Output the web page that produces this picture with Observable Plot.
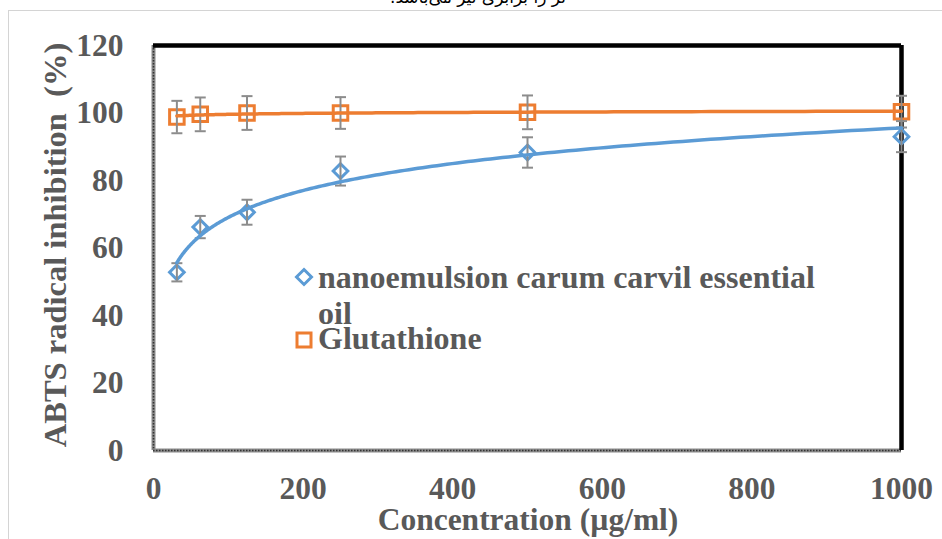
<!DOCTYPE html>
<html>
<head>
<meta charset="utf-8">
<script src="https://cdn.jsdelivr.net/npm/d3@7"></script>
<script src="https://cdn.jsdelivr.net/npm/@observablehq/plot@0.6"></script>
<style>
  body { margin: 0; background: #fff; }
  #wrap { position: relative; width: 942px; height: 539px; overflow: hidden; background: #fff;
          font-family: "Liberation Serif", "Times New Roman", serif; font-weight: bold; color: #595959; }
  #page { position: absolute; left: 8px; top: 10px; width: 1000px; height: 1000px;
          border-left: 1.5px solid #d4d4d4; border-top: 1.5px solid #d4d4d4; }
  #chart { position: absolute; left: 0; top: 0; }
  .lbl { position: absolute; white-space: pre; line-height: 36px; font-size: 31.5px; }
  #fa { position: absolute; left: 478px; top: -13px; transform: translateX(-50%); direction: rtl;
        font-family: "DejaVu Sans", sans-serif; font-weight: normal; font-size: 17px; color: #000; white-space: nowrap; }
  .sym { position: absolute; }
</style>
</head>
<body>
<div id="wrap">
  <div id="page"></div>
  <div id="fa">تر را برابری نیز می‌باشد.</div>
  <div id="chart"></div>
</div>
<script>
// ---- data ----
const concentrations = [31.25, 62.5, 125, 250, 500, 1000];
const nanoValues = [52.8, 66.2, 70.6, 82.8, 88.3, 93.0];
const nanoErrors = [2.7, 3.3, 3.7, 4.3, 4.5, 4.6];
const glutValues = [98.8, 99.6, 100.0, 100.0, 100.2, 100.4];
const glutErrors = [4.8, 5.0, 5.0, 4.7, 5.0, 4.7];
const xTicks = [0, 200, 400, 600, 800, 1000];
const yTicks = [0, 20, 40, 60, 80, 100, 120];
const seriesNames = ["nanoemulsion carum carvil essential", "oil", "Glutathione"];
const xTitle = "Concentration (µg/ml)";
const yTitle = "ABTS radical inhibition  (%)";

const blue = "#5B9BD5", orange = "#ED7D31", barGray = "#8c8c8c", textGray = "#595959";

// logarithmic least-squares trendline (as Excel's log trendline)
function logFit(xs, ys) {
  const lx = xs.map(Math.log);
  const mx = d3.mean(lx), my = d3.mean(ys);
  const a = d3.sum(lx, (v, i) => (v - mx) * (ys[i] - my)) / d3.sum(lx, v => (v - mx) ** 2);
  const b = my - a * mx;
  return x => a * Math.log(x) + b;
}
const x0 = d3.min(concentrations), x1 = d3.max(concentrations);
const fitXs = d3.range(0, 201).map(i => x0 * Math.pow(x1 / x0, i / 200));
const nanoFit = logFit(concentrations, nanoValues);
const glutFit = logFit(concentrations, glutValues);

const nano = concentrations.map((c, i) => ({x: c, y: nanoValues[i], lo: nanoValues[i] - nanoErrors[i], hi: nanoValues[i] + nanoErrors[i]}));
const glut = concentrations.map((c, i) => ({x: c, y: glutValues[i], lo: glutValues[i] - glutErrors[i], hi: glutValues[i] + glutErrors[i]}));
const nanoLine = fitXs.map(x => ({x, y: nanoFit(x)}));
const glutLine = fitXs.map(x => ({x, y: glutFit(x)}));

const capSymbol = {draw(ctx, size) { const r = Math.sqrt(size / Math.PI); ctx.moveTo(-r, 0); ctx.lineTo(r, 0); }};

function errorMarks(data) {
  return [
    Plot.ruleX(data, {x: "x", y1: "lo", y2: "hi", stroke: barGray, strokeWidth: 2}),
    Plot.dot(data, {x: "x", y: "lo", symbol: capSymbol, r: 5.5, stroke: barGray, strokeWidth: 2, fill: "none"}),
    Plot.dot(data, {x: "x", y: "hi", symbol: capSymbol, r: 5.5, stroke: barGray, strokeWidth: 2, fill: "none"})
  ];
}

const chart = Plot.plot({
  width: 942, height: 539,
  marginLeft: 153, marginRight: 41, marginTop: 45, marginBottom: 89,
  style: {fontFamily: '"Liberation Serif", "Times New Roman", serif', fontSize: "31.5px", fontWeight: "bold", color: textGray, background: "transparent", overflow: "visible"},
  x: {domain: [0, 1000], label: null},
  y: {domain: [0, 120], label: null},
  marks: [
    Plot.axisX(xTicks, {tickSize: 0, tickPadding: 26, label: null, tickFormat: d => String(d), fontSize: 31.5, fontWeight: "bold", fill: textGray}),
    Plot.axisY(yTicks, {tickSize: 0, tickPadding: 30, label: null, tickFormat: d => String(d), fontSize: 31.5, fontWeight: "bold", fill: textGray}),
    // plot-area border
    Plot.ruleX([0], {stroke: "#8a8a8a", strokeWidth: 4}),
    Plot.ruleX([0], {stroke: "#333", strokeWidth: 1.5, strokeDasharray: "1.5,1.5"}),
    Plot.ruleY([0], {stroke: "#8a8a8a", strokeWidth: 4}),
    Plot.ruleY([0], {stroke: "#333", strokeWidth: 1.5, strokeDasharray: "1.5,1.5"}),
    Plot.ruleY([120], {stroke: "#000", strokeWidth: 4.5}),
    Plot.ruleX([1000], {stroke: "#000", strokeWidth: 4.5}),
    // markers
    Plot.dot(glut, {x: "x", y: "y", symbol: "square", r: 8.2, stroke: orange, strokeWidth: 3, fill: "none"}),
    Plot.dot(nano, {x: "x", y: "y", symbol: "diamond2", r: 6.6, stroke: blue, strokeWidth: 3, fill: "none"}),
    ...errorMarks(glut),
    ...errorMarks(nano),
    // trendlines
    Plot.line(glutLine, {x: "x", y: "y", stroke: orange, strokeWidth: 3.5}),
    Plot.line(nanoLine, {x: "x", y: "y", stroke: blue, strokeWidth: 3.5})
  ]
});
document.getElementById("chart").appendChild(chart);

// titles and legend (HTML text)
const W = document.getElementById("wrap");
function addLabel(text, css) {
  const d = document.createElement("div");
  d.className = "lbl";
  d.textContent = text;
  Object.assign(d.style, css);
  W.appendChild(d);
  return d;
}
addLabel(xTitle, {left: "528px", top: "502px", transform: "translateX(-50%)"});
addLabel(yTitle, {left: "55px", top: "245px", fontSize: "32.5px", transform: "translate(-50%,-50%) rotate(-90deg)"});
addLabel(seriesNames[0], {left: "318px", top: "259px", fontSize: "32px"});
addLabel(seriesNames[1], {left: "318px", top: "295px", fontSize: "32px"});
addLabel(seriesNames[2], {left: "318px", top: "320px", fontSize: "32px"});

// legend symbols
function addSym(cx, cy, kind, color) {
  const ns = "http://www.w3.org/2000/svg";
  const s = document.createElementNS(ns, "svg");
  s.setAttribute("width", 24); s.setAttribute("height", 24);
  s.setAttribute("class", "sym");
  s.style.left = (cx - 12) + "px"; s.style.top = (cy - 12) + "px";
  const p = document.createElementNS(ns, "path");
  p.setAttribute("d", kind === "diamond" ? "M12,4.5L19.5,12L12,19.5L4.5,12Z" : "M5,5H19V19H5Z");
  p.setAttribute("fill", "none"); p.setAttribute("stroke", color); p.setAttribute("stroke-width", 3);
  s.appendChild(p);
  W.appendChild(s);
}
addSym(304, 277, "diamond", blue);
addSym(304, 340, "square", orange);
</script>
</body>
</html>
